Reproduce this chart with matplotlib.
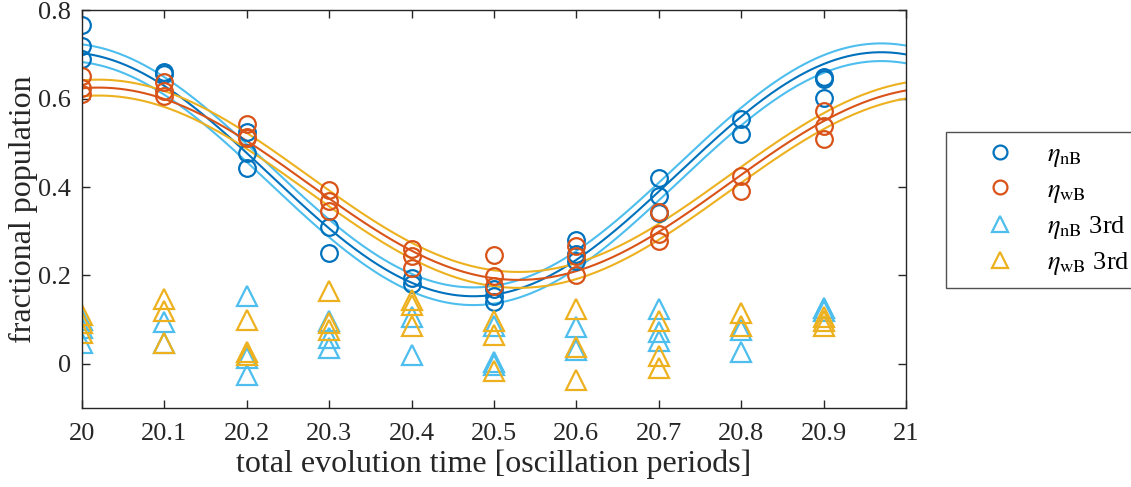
import numpy as np
import matplotlib
matplotlib.use("Agg")
import matplotlib.pyplot as plt
from matplotlib.lines import Line2D

# ---------------------------------------------------------------
# measured populations per evolution time
# ---------------------------------------------------------------
times = [20.0, 20.1, 20.2, 20.3, 20.4, 20.5, 20.6, 20.7, 20.8, 20.9]

eta_nB = [[0.766, 0.718, 0.689], [0.661, 0.655], [0.525, 0.477, 0.443],
          [0.310, 0.250], [0.195, 0.180], [0.170, 0.153, 0.139],
          [0.280, 0.248, 0.233], [0.420, 0.380, 0.342], [0.555, 0.520],
          [0.649, 0.645, 0.601]]

eta_wB = [[0.652, 0.623, 0.611], [0.638, 0.618, 0.607], [0.543, 0.513, 0.510],
          [0.394, 0.369, 0.346], [0.259, 0.245, 0.216], [0.246, 0.198, 0.176],
          [0.267, 0.244, 0.200], [0.344, 0.293, 0.278], [0.426, 0.392],
          [0.571, 0.538, 0.508]]

eta_nB_3rd = [[0.100, 0.081, 0.047], [0.094, 0.048], [0.153, 0.013, -0.025],
              [0.098, 0.059, 0.036], [0.107, 0.019], [0.085, 0.005, -0.002],
              [0.083, 0.032], [0.124, 0.073, 0.051], [0.077, 0.028],
              [0.126, 0.120]]

eta_wB_3rd = [[0.111, 0.092, 0.070], [0.147, 0.119, 0.048], [0.100, 0.028, 0.020],
              [0.164, 0.093, 0.077], [0.144, 0.134, 0.085], [0.096, 0.066, -0.017],
              [0.124, 0.039, -0.036], [0.096, 0.018, -0.010], [0.115, 0.085],
              [0.107, 0.096, 0.085]]

# cosine fits: offset, amplitude, time of maximum, period, confidence half-width
fit_nB = dict(c=0.429, amp=0.276, t0=19.98, period=0.99, band=0.020)
fit_wB = dict(c=0.4075, amp=0.2175, t0=20.02, period=1.02, band=0.018)

# MATLAB default colours
c_blue = "#0072BD"
c_orange = "#D95319"
c_yellow = "#EDB120"
c_cyan = "#4DBEEE"
c_axis = "#262626"

plt.rcParams["font.family"] = ["Liberation Serif", "DejaVu Serif"]
plt.rcParams["mathtext.fontset"] = "stix"


def flatten(groups):
    xs = np.concatenate([[t] * len(g) for t, g in zip(times, groups)])
    ys = np.concatenate(groups)
    return xs, ys


def fit_curve(t, p):
    return p["c"] + p["amp"] * np.cos(2 * np.pi * (t - p["t0"]) / p["period"])


fig = plt.figure(figsize=(11.31, 4.87), dpi=100)
ax = fig.add_axes([0.0725, 0.162, 0.7285, 0.817])

t = np.linspace(20, 21, 400)

# fit curves with their bounds
for p, mid, bound in [(fit_nB, c_blue, c_cyan), (fit_wB, c_orange, c_yellow)]:
    y = fit_curve(t, p)
    ax.plot(t, y + p["band"], color=bound, lw=1.5)
    ax.plot(t, y - p["band"], color=bound, lw=1.5)
    ax.plot(t, y, color=mid, lw=1.5)

marker_kw = dict(linestyle="none", markerfacecolor="none", markeredgewidth=1.6)
x, y = flatten(eta_nB)
ax.plot(x, y, "o", markersize=12, markeredgecolor=c_blue, **marker_kw)
x, y = flatten(eta_wB)
ax.plot(x, y, "o", markersize=12, markeredgecolor=c_orange, **marker_kw)
x, y = flatten(eta_nB_3rd)
ax.plot(x, y, "^", markersize=15, markeredgecolor=c_cyan, **marker_kw)
x, y = flatten(eta_wB_3rd)
ax.plot(x, y, "^", markersize=15, markeredgecolor=c_yellow, **marker_kw)

ax.set_xlim(20, 21)
ax.set_ylim(-0.1, 0.8)
ax.set_xticks(np.round(np.arange(20, 21.01, 0.1), 1))
ax.set_xticklabels(["20", "20.1", "20.2", "20.3", "20.4", "20.5",
                    "20.6", "20.7", "20.8", "20.9", "21"])
ax.set_yticks([0, 0.2, 0.4, 0.6, 0.8])
ax.set_yticklabels(["0", "0.2", "0.4", "0.6", "0.8"])
ax.tick_params(direction="in", length=6, width=1, top=True, right=True,
               labelsize=19, colors=c_axis)
ax.tick_params(axis="x", pad=11)
ax.tick_params(axis="y", pad=8)
for s in ax.spines.values():
    s.set_color(c_axis)
    s.set_linewidth(1)

ax.set_xlabel("total evolution time [oscillation periods]", fontsize=23,
              color=c_axis, labelpad=3)
ax.set_ylabel("fractional population", fontsize=23, color=c_axis, labelpad=0)

handles = [
    Line2D([], [], marker="o", color=c_blue, markersize=10, **marker_kw),
    Line2D([], [], marker="o", color=c_orange, markersize=10, **marker_kw),
    Line2D([], [], marker="^", color=c_cyan, markersize=12, **marker_kw),
    Line2D([], [], marker="^", color=c_yellow, markersize=12, **marker_kw),
]
labels = [r"$\eta_{\rm nB}$", r"$\eta_{\rm wB}$",
          r"$\eta_{\rm nB}$ 3rd", r"$\eta_{\rm wB}$ 3rd"]
leg = fig.legend(handles, labels, loc="upper left",
                 bbox_to_anchor=(0.836, 0.729), fontsize=19, frameon=True,
                 fancybox=False, edgecolor=c_axis, handlelength=3.3,
                 handletextpad=0.15, labelspacing=0.35, borderpad=0.4,
                 borderaxespad=0)
leg.get_frame().set_linewidth(1)

fig.savefig("out.png", dpi=100)
